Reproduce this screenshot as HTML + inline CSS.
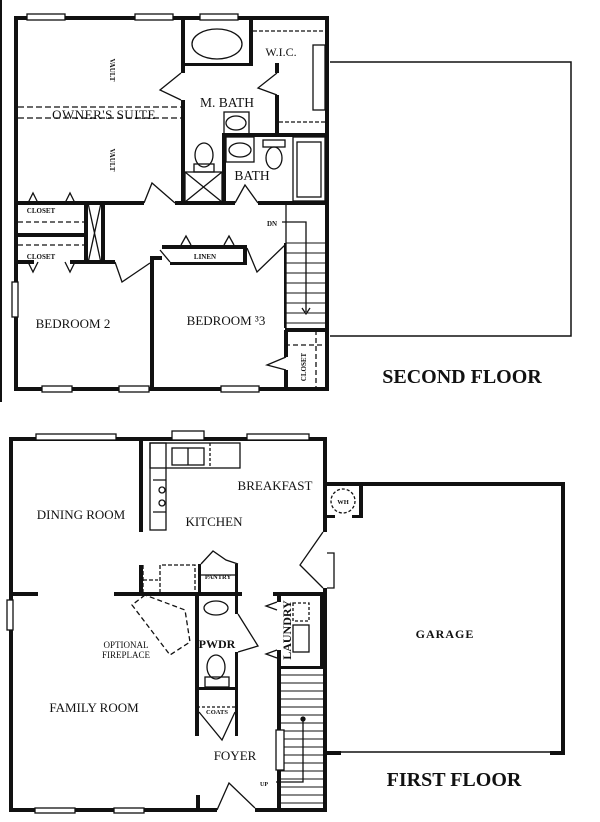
<!DOCTYPE html>
<html><head><meta charset="utf-8"><style>
html,body{margin:0;padding:0;background:#fff;width:600px;height:822px;overflow:hidden}
svg{display:block}
text{font-family:"Liberation Serif",serif;fill:#111}
</style></head><body>
<svg width="600" height="822" viewBox="0 0 600 822" xmlns="http://www.w3.org/2000/svg">
<g fill="#111">
<!-- left edge line -->
<rect x="0" y="0" width="2" height="402"/>
<!-- SECOND FLOOR outer -->
<rect x="14" y="16" width="315" height="4"/>
<rect x="14" y="16" width="4" height="375"/>
<rect x="14" y="387" width="315" height="4"/>
<rect x="325" y="16" width="4" height="375"/>
<!-- owner suite right wall -->
<rect x="181" y="18" width="4" height="55"/>
<rect x="181" y="100" width="4" height="105"/>
<rect x="183" y="63" width="68" height="3"/>
<rect x="249" y="18" width="4" height="48"/>
<rect x="275" y="63" width="4" height="10"/>
<rect x="275" y="95" width="4" height="42"/>
<rect x="222" y="133" width="106" height="4"/>
<rect x="222" y="133" width="4" height="72"/>
<!-- bottom of upper rooms -->
<rect x="14" y="201" width="130" height="4"/>
<rect x="175" y="201" width="60" height="4"/>
<rect x="258" y="201" width="70" height="4"/>
<!-- closets -->
<rect x="14" y="233" width="70" height="4"/>
<rect x="84" y="203" width="4" height="60"/>
<rect x="101" y="203" width="4" height="60"/>
<rect x="14" y="260" width="20" height="4"/>
<rect x="70" y="260" width="45" height="4"/>
<rect x="150" y="258" width="4" height="133"/>
<!-- linen -->
<rect x="162" y="245" width="85" height="4"/>
<rect x="170" y="262" width="76" height="3"/>
<rect x="243" y="245" width="4" height="20"/>
<rect x="150" y="256" width="12" height="4"/>
<!-- stairs -->
<rect x="284" y="243" width="2" height="85"/>
<rect x="285" y="328" width="43" height="4"/>
<rect x="284" y="330" width="4" height="27"/>
<rect x="284" y="370" width="4" height="20"/>
<!-- tub / fixtures -->
</g>
<g fill="none" stroke="#111" stroke-width="1.3">
<ellipse cx="217" cy="44" rx="25" ry="15"/>
<path d="M181 73 L160 90 L181 100"/>
<path d="M277 73 L258 88 L277 95"/>
<rect x="224" y="112" width="25" height="22"/>
<ellipse cx="236" cy="123" rx="10" ry="7"/>
<ellipse cx="204" cy="155" rx="9" ry="12"/>
<rect x="194" y="164" width="20" height="8"/>
<rect x="185" y="172" width="37" height="30"/>
<path d="M185 172 L222 202 M222 172 L185 202"/>
<rect x="226" y="137" width="28" height="25"/>
<ellipse cx="240" cy="150" rx="11" ry="7"/>
<ellipse cx="274" cy="158" rx="8" ry="11"/>
<rect x="263" y="140" width="22" height="7"/>
<rect x="293" y="137" width="32" height="64"/>
<rect x="297" y="142" width="24" height="55"/>
<rect x="313" y="45" width="12" height="65"/>
<path d="M253 31 H325 M279 122 H325" stroke-dasharray="4 2"/>
<path d="M18 107 H183 M18 118 H183" stroke-dasharray="6 3"/>
<path d="M18 222 H84 M18 245 H84" stroke-dasharray="5 3"/>
<path d="M88 203 L101 263 M101 203 L88 263"/>
<path d="M144 203 L152 183 L175 203"/>
<path d="M235 203 L245 185 L258 203"/>
<path d="M115 262 L122 282 L150 263"/>
<path d="M247 248 L257 272 L285 245"/>
<path d="M28 203 L33 193 L38 203 M65 203 L70 193 L75 203 M28 262 L33 272 L38 262 M65 262 L70 272 L75 262"/>
<path d="M181 245 L186 236 L191 245 M224 245 L229 236 L234 245"/>
<path d="M286 205 V330"/>
<g stroke-width="1"><path d="M286 243H325M286 253H325M286 263H325M286 273H325M286 283H325M286 293H325M286 303H325M286 313H325M286 323H325"/></g>
<path d="M282 222 H306 V312 M302 308 L306 314 L310 308"/>
<path d="M285 345 H328 M316 330 V388" stroke-dasharray="5 3"/>
<path d="M286 357 L267 365 L286 370"/>
<path d="M160 250 L170 262"/>
<!-- windows 2nd floor -->
<g stroke="#111" fill="#fff">
<rect x="27" y="14" width="38" height="6"/><rect x="135" y="14" width="38" height="6"/><rect x="200" y="14" width="38" height="6"/>
<rect x="42" y="386" width="30" height="6"/><rect x="119" y="386" width="30" height="6"/><rect x="221" y="386" width="38" height="6"/>
<rect x="12" y="282" width="6" height="35"/>
</g>
<!-- second-floor right outline -->
<path d="M330 62 H571 V336 H330" stroke-width="1.5"/>
</g>

<!-- FIRST FLOOR -->
<g fill="#111">
<rect x="9" y="437" width="318" height="4"/>
<rect x="9" y="437" width="4" height="375"/>
<rect x="9" y="808" width="208" height="4"/>
<rect x="255" y="808" width="72" height="4"/>
<rect x="323" y="437" width="4" height="95"/>
<rect x="323" y="588" width="4" height="224"/>
<rect x="139" y="440" width="4" height="92"/>
<rect x="11" y="592" width="27" height="4"/>
<rect x="114" y="592" width="128" height="4"/>
<rect x="139" y="565" width="4" height="29"/>
<rect x="198" y="564" width="3" height="30"/>
<rect x="235" y="564" width="3" height="30"/>
<rect x="195" y="594" width="4" height="142"/>
<rect x="235" y="594" width="3" height="20"/>
<rect x="235" y="652" width="3" height="84"/>
<rect x="197" y="687" width="40" height="3"/>
<rect x="273" y="592" width="52" height="4"/>
<rect x="277" y="592" width="4" height="10"/>
<rect x="277" y="650" width="4" height="160"/>
<rect x="320" y="594" width="4" height="75"/>
<rect x="279" y="666" width="45" height="3"/>
<rect x="196" y="795" width="4" height="15"/>
<!-- garage -->
<rect x="325" y="482" width="240" height="4"/>
<rect x="561" y="482" width="4" height="273"/>
<rect x="325" y="751" width="16" height="4"/>
<rect x="550" y="751" width="15" height="4"/>
<rect x="359" y="484" width="4" height="34"/>
<rect x="325" y="515" width="10" height="3"/>
<rect x="352" y="515" width="10" height="3"/>
</g>
<g fill="none" stroke="#111" stroke-width="1.3">
<g fill="#fff">
<rect x="36" y="434" width="80" height="6"/><rect x="247" y="434" width="62" height="6"/>
<rect x="172" y="431" width="32" height="9"/>
<rect x="35" y="808" width="40" height="5"/><rect x="114" y="808" width="30" height="5"/>
<rect x="7" y="600" width="6" height="30"/>
</g>
<rect x="150" y="443" width="90" height="25"/>
<rect x="150" y="443" width="16" height="87"/>
<rect x="172" y="448" width="32" height="17"/>
<path d="M188 448 V465"/>
<path d="M210 443 V466" stroke-dasharray="3 2"/>
<circle cx="162" cy="490" r="3"/><circle cx="162" cy="503" r="3"/>
<path d="M153 480H166M153 512H166"/>
<path d="M143 565 V593 M143 580 H158" stroke-dasharray="4 2"/>
<path d="M160 593 V565 H195 V593" stroke-dasharray="4 2"/>
<path d="M201 564 L213 551 L226 560 L238 564"/>
<path d="M201 575 H235"/>
<path d="M145 595 L132 605 L170 655 L190 642 L185 610 Z" stroke-dasharray="5 3"/>
<ellipse cx="216" cy="608" rx="12" ry="7"/>
<ellipse cx="216" cy="667" rx="9" ry="12"/>
<rect x="205" y="677" width="24" height="10"/>
<path d="M238 614 L258 646 L238 652"/>
<path d="M197 707 H235" stroke-dasharray="3 2"/>
<path d="M199 712 L222 740 L235 712"/>
<path d="M277 602 L266 606 L277 610 M277 650 L266 654 L277 658"/>
<rect x="293" y="603" width="16" height="18" stroke-dasharray="3 2"/>
<rect x="293" y="625" width="16" height="27"/>
<path d="M323 532 L300 565 L323 588"/>
<path d="M281 675H325M281 683H325M281 691H325M281 699H325M281 707H325M281 715H325M281 723H325M281 731H325M281 739H325M281 747H325M281 755H325M281 763H325M281 771H325M281 779H325M281 787H325M281 795H325M281 803H325" stroke-width="1"/>
<rect x="276" y="730" width="8" height="40" fill="#fff"/>
<path d="M276 782 H303 V720" />
<circle cx="303" cy="719" r="2" fill="#111"/>
<path d="M217 810 L229 783 L255 808"/>
<circle cx="343" cy="501" r="12" stroke-dasharray="3 2"/>
<path d="M341 752 H550" stroke-width="1.5"/>
<path d="M327 553 H334 V588 H327" fill="#fff"/>
</g>

<!-- labels -->
<g font-size="13.5" font-weight="normal">
<text x="104" y="119" font-size="13" text-anchor="middle" style="letter-spacing:0.5px">OWNER'S SUITE</text>
<text x="227" y="107" text-anchor="middle">M.  BATH</text>
<text x="281" y="56" text-anchor="middle" font-size="12">W.I.C.</text>
<text x="252" y="180" text-anchor="middle">BATH</text>
<text x="73" y="328" text-anchor="middle" font-size="13">BEDROOM  2</text>
<text x="226" y="325" text-anchor="middle" font-size="13">BEDROOM ³3</text>
<text x="41" y="213" font-size="7" text-anchor="middle" font-weight="bold">CLOSET</text>
<text x="41" y="259" font-size="7" text-anchor="middle" font-weight="bold">CLOSET</text>
<text x="205" y="259" font-size="7" text-anchor="middle" font-weight="bold">LINEN</text>
<text x="272" y="226" font-size="7" text-anchor="middle" font-weight="bold">DN</text>
<text x="110" y="70" font-size="7" font-weight="bold" transform="rotate(90 110 70)" text-anchor="middle">VAULT</text>
<text x="110" y="160" font-size="7" font-weight="bold" transform="rotate(90 110 160)" text-anchor="middle">VAULT</text>
<text x="306" y="367" font-size="7" font-weight="bold" transform="rotate(-90 306 367)" text-anchor="middle">CLOSET</text>
<text x="462" y="383" text-anchor="middle" font-size="20" font-weight="bold">SECOND FLOOR</text>

<text x="81" y="519" text-anchor="middle" font-size="13">DINING  ROOM</text>
<text x="214" y="526" text-anchor="middle" font-size="13">KITCHEN</text>
<text x="275" y="490" text-anchor="middle" font-size="13">BREAKFAST</text>
<text x="94" y="712" text-anchor="middle" font-size="13">FAMILY  ROOM</text>
<text x="235" y="760" text-anchor="middle" font-size="13">FOYER</text>
<text x="217" y="648" text-anchor="middle" font-size="12" font-weight="bold">PWDR</text>
<text x="126" y="648" text-anchor="middle" font-size="9">OPTIONAL</text>
<text x="126" y="658" text-anchor="middle" font-size="9">FIREPLACE</text>
<text x="218" y="579" text-anchor="middle" font-size="6.5" font-weight="bold">PANTRY</text>
<text x="217" y="714" text-anchor="middle" font-size="6.5" font-weight="bold">COATS</text>
<text x="291" y="630" font-size="12" font-weight="bold" transform="rotate(-90 291 630)" text-anchor="middle">LAUNDRY</text>
<text x="343" y="504" text-anchor="middle" font-size="6.5" font-weight="bold">WH</text>
<text x="445" y="638" text-anchor="middle" font-size="12" font-weight="bold" style="letter-spacing:1px">GARAGE</text>
<text x="260" y="786" font-size="6" font-weight="bold">UP</text>
<text x="454" y="786" text-anchor="middle" font-size="20" font-weight="bold">FIRST FLOOR</text>
</g>
</svg>
</body></html>
